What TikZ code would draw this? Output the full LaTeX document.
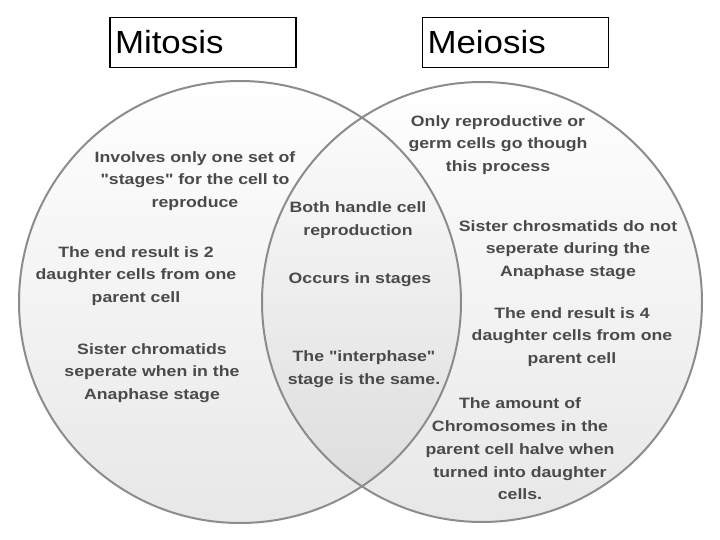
\documentclass[tikz,border=0pt]{standalone}
\usepackage{fontspec}
\newfontfamily\bodyfont[FakeStretch=1.18]{Liberation Sans}
\newfontfamily\titlefont[FakeStretch=1.09]{Liberation Sans}
\definecolor{txt}{HTML}{4A4A4A}
\definecolor{ring}{HTML}{8C8C8C}
\begin{document}
\begin{tikzpicture}[x=1pt,y=-1pt,
  venn/.style={draw=ring, line width=2pt},
  lbl/.style={align=center, text=txt, inner sep=0pt, font=\bodyfont\bfseries\fontsize{15}{22.8}\selectfont},
  titlebox/.style={draw=black, line width=1.5pt, minimum width=186pt, minimum height=50pt, text width=176pt, inner xsep=5pt, inner ysep=0pt, align=left, font=\titlefont\fontsize{32}{36}\selectfont}]
\useasboundingbox (0,0) rectangle (720,540);
\fill[white] (0,0) rectangle (720,540);
% circles
\shade[top color=white, bottom color=black!20, fill opacity=0.45] (240,302) circle[radius=221pt];
\shade[top color=white, bottom color=black!20, fill opacity=0.45] (482,302) circle[radius=220pt];
\draw[venn] (240,302) circle[radius=221pt];
\draw[venn] (482,302) circle[radius=220pt];
% titles
\node[titlebox] (mit) at (203,42.5) {Mitosis};
\node[titlebox, minimum width=185pt] (mei) at (515.5,42.5) {Meiosis};
% left
\node[lbl] (l1) at (195,181) {Involves only one set of\\"stages" for the cell to\\reproduce};
\node[lbl] (l2) at (136,276) {The end result is 2\\daughter cells from one\\parent cell};
\node[lbl] (l3) at (152,373) {Sister chromatids\\seperate when in the\\Anaphase stage};
% middle
\node[lbl] (m1) at (358,220.5) {Both handle cell\\reproduction};
\node[lbl] (m2) at (360,280) {Occurs in stages};
\node[lbl] (m3) at (364,369.5) {The "interphase"\\stage is the same.};
% right
\node[lbl] (r1) at (498,145) {Only reproductive or\\germ cells go though\\this process};
\node[lbl] (r2) at (568,250) {Sister chrosmatids do not\\seperate during the\\Anaphase stage};
\node[lbl] (r3) at (572,337) {The end result is 4\\daughter cells from one\\parent cell};
\node[lbl] (r4) at (520,449) {The amount of\\Chromosomes in the\\parent cell halve when\\turned into daughter\\cells.};
\end{tikzpicture}
\end{document}
